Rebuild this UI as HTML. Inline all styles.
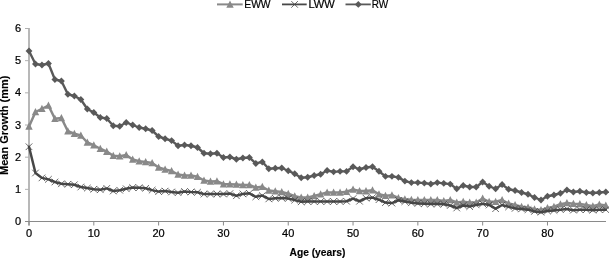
<!DOCTYPE html>
<html><head><meta charset="utf-8"><title>Mean Growth vs Age</title>
<style>html,body{margin:0;padding:0;background:#fff}svg{display:block}</style></head>
<body>
<svg width="609" height="258" viewBox="0 0 609 258" font-family="'Liberation Sans', sans-serif">
<rect width="609" height="258" fill="#fff"/>
<line x1="29" y1="28" x2="29" y2="225.5" stroke="#b8b8b8" stroke-width="2"/>
<line x1="25" y1="221.5" x2="606" y2="221.5" stroke="#8a8a8a" stroke-width="1"/>
<line x1="25" y1="28.50" x2="29" y2="28.50" stroke="#b0b0b0" stroke-width="1"/>
<text x="21" y="32.10" font-size="11" text-anchor="end" fill="#000" stroke="#000" stroke-width="0.22">6</text>
<line x1="25" y1="60.67" x2="29" y2="60.67" stroke="#b0b0b0" stroke-width="1"/>
<text x="21" y="64.27" font-size="11" text-anchor="end" fill="#000" stroke="#000" stroke-width="0.22">5</text>
<line x1="25" y1="92.84" x2="29" y2="92.84" stroke="#b0b0b0" stroke-width="1"/>
<text x="21" y="96.44" font-size="11" text-anchor="end" fill="#000" stroke="#000" stroke-width="0.22">4</text>
<line x1="25" y1="125.01" x2="29" y2="125.01" stroke="#b0b0b0" stroke-width="1"/>
<text x="21" y="128.61" font-size="11" text-anchor="end" fill="#000" stroke="#000" stroke-width="0.22">3</text>
<line x1="25" y1="157.18" x2="29" y2="157.18" stroke="#b0b0b0" stroke-width="1"/>
<text x="21" y="160.78" font-size="11" text-anchor="end" fill="#000" stroke="#000" stroke-width="0.22">2</text>
<line x1="25" y1="189.35" x2="29" y2="189.35" stroke="#b0b0b0" stroke-width="1"/>
<text x="21" y="192.95" font-size="11" text-anchor="end" fill="#000" stroke="#000" stroke-width="0.22">1</text>
<text x="21" y="225.12" font-size="11" text-anchor="end" fill="#000" stroke="#000" stroke-width="0.22">0</text>
<line x1="29.00" y1="221.5" x2="29.00" y2="225.5" stroke="#8a8a8a" stroke-width="1"/>
<text x="29.00" y="237.2" font-size="11" text-anchor="middle" fill="#000" stroke="#000" stroke-width="0.22">0</text>
<line x1="93.81" y1="221.5" x2="93.81" y2="225.5" stroke="#8a8a8a" stroke-width="1"/>
<text x="93.81" y="237.2" font-size="11" text-anchor="middle" fill="#000" stroke="#000" stroke-width="0.22">10</text>
<line x1="158.62" y1="221.5" x2="158.62" y2="225.5" stroke="#8a8a8a" stroke-width="1"/>
<text x="158.62" y="237.2" font-size="11" text-anchor="middle" fill="#000" stroke="#000" stroke-width="0.22">20</text>
<line x1="223.43" y1="221.5" x2="223.43" y2="225.5" stroke="#8a8a8a" stroke-width="1"/>
<text x="223.43" y="237.2" font-size="11" text-anchor="middle" fill="#000" stroke="#000" stroke-width="0.22">30</text>
<line x1="288.24" y1="221.5" x2="288.24" y2="225.5" stroke="#8a8a8a" stroke-width="1"/>
<text x="288.24" y="237.2" font-size="11" text-anchor="middle" fill="#000" stroke="#000" stroke-width="0.22">40</text>
<line x1="353.04" y1="221.5" x2="353.04" y2="225.5" stroke="#8a8a8a" stroke-width="1"/>
<text x="353.04" y="237.2" font-size="11" text-anchor="middle" fill="#000" stroke="#000" stroke-width="0.22">50</text>
<line x1="417.85" y1="221.5" x2="417.85" y2="225.5" stroke="#8a8a8a" stroke-width="1"/>
<text x="417.85" y="237.2" font-size="11" text-anchor="middle" fill="#000" stroke="#000" stroke-width="0.22">60</text>
<line x1="482.66" y1="221.5" x2="482.66" y2="225.5" stroke="#8a8a8a" stroke-width="1"/>
<text x="482.66" y="237.2" font-size="11" text-anchor="middle" fill="#000" stroke="#000" stroke-width="0.22">70</text>
<line x1="547.47" y1="221.5" x2="547.47" y2="225.5" stroke="#8a8a8a" stroke-width="1"/>
<text x="547.47" y="237.2" font-size="11" text-anchor="middle" fill="#000" stroke="#000" stroke-width="0.22">80</text>
<text transform="translate(8.4,174.9) rotate(-90)" font-size="11" font-weight="bold" textLength="99.3" lengthAdjust="spacingAndGlyphs" fill="#000" stroke="#000" stroke-width="0.15">Mean Growth (mm)</text>
<text x="289.5" y="255.5" font-size="11" font-weight="bold" textLength="55.8" lengthAdjust="spacingAndGlyphs" fill="#000" stroke="#000" stroke-width="0.15">Age (years)</text>
<polyline points="29.00,126.45 35.48,112.00 41.96,108.75 48.44,105.50 54.92,118.75 61.40,118.00 67.89,131.25 74.37,133.75 80.85,135.50 87.33,142.50 93.81,145.25 100.29,148.75 106.77,151.60 113.25,155.75 119.73,156.25 126.21,155.00 132.69,159.50 139.18,161.25 145.66,162.00 152.14,163.00 158.62,167.50 165.10,169.50 171.58,171.00 178.06,174.50 184.54,175.50 191.02,175.50 197.50,176.75 203.98,180.50 210.47,181.50 216.95,181.25 223.43,184.25 229.91,184.25 236.39,184.50 242.87,185.00 249.35,185.00 255.83,187.50 262.31,186.75 268.79,190.50 275.27,191.25 281.76,192.00 288.24,193.75 294.72,196.25 301.20,197.50 307.68,197.50 314.16,196.00 320.64,194.25 327.12,192.40 333.60,192.40 340.08,192.40 346.56,191.75 353.04,189.50 359.53,191.00 366.01,191.10 372.49,190.25 378.97,194.25 385.45,195.75 391.93,195.25 398.41,198.00 404.89,199.25 411.37,199.75 417.85,200.00 424.33,200.00 430.82,200.00 437.30,200.00 443.78,201.00 450.26,200.00 456.74,202.50 463.22,201.75 469.70,202.50 476.18,202.50 482.66,198.50 489.14,201.75 495.62,201.75 502.11,200.00 508.59,203.50 515.07,205.00 521.55,206.75 528.03,207.50 534.51,209.25 540.99,210.00 547.47,208.00 553.95,206.75 560.43,204.25 566.91,203.00 573.40,203.80 579.88,204.00 586.36,205.00 592.84,206.25 599.32,204.50 605.80,205.50" fill="none" stroke="#898989" stroke-width="2.5" stroke-linejoin="round" stroke-linecap="round"/>
<path d="M29.00 122.45L32.70 129.75L25.30 129.75Z" fill="#898989"/><path d="M35.48 108.00L39.18 115.30L31.78 115.30Z" fill="#898989"/><path d="M41.96 104.75L45.66 112.05L38.26 112.05Z" fill="#898989"/><path d="M48.44 101.50L52.14 108.80L44.74 108.80Z" fill="#898989"/><path d="M54.92 114.75L58.62 122.05L51.22 122.05Z" fill="#898989"/><path d="M61.40 114.00L65.10 121.30L57.70 121.30Z" fill="#898989"/><path d="M67.89 127.25L71.59 134.55L64.19 134.55Z" fill="#898989"/><path d="M74.37 129.75L78.07 137.05L70.67 137.05Z" fill="#898989"/><path d="M80.85 131.50L84.55 138.80L77.15 138.80Z" fill="#898989"/><path d="M87.33 138.50L91.03 145.80L83.63 145.80Z" fill="#898989"/><path d="M93.81 141.25L97.51 148.55L90.11 148.55Z" fill="#898989"/><path d="M100.29 144.75L103.99 152.05L96.59 152.05Z" fill="#898989"/><path d="M106.77 147.60L110.47 154.90L103.07 154.90Z" fill="#898989"/><path d="M113.25 151.75L116.95 159.05L109.55 159.05Z" fill="#898989"/><path d="M119.73 152.25L123.43 159.55L116.03 159.55Z" fill="#898989"/><path d="M126.21 151.00L129.91 158.30L122.51 158.30Z" fill="#898989"/><path d="M132.69 155.50L136.39 162.80L128.99 162.80Z" fill="#898989"/><path d="M139.18 157.25L142.88 164.55L135.48 164.55Z" fill="#898989"/><path d="M145.66 158.00L149.36 165.30L141.96 165.30Z" fill="#898989"/><path d="M152.14 159.00L155.84 166.30L148.44 166.30Z" fill="#898989"/><path d="M158.62 163.50L162.32 170.80L154.92 170.80Z" fill="#898989"/><path d="M165.10 165.50L168.80 172.80L161.40 172.80Z" fill="#898989"/><path d="M171.58 167.00L175.28 174.30L167.88 174.30Z" fill="#898989"/><path d="M178.06 170.50L181.76 177.80L174.36 177.80Z" fill="#898989"/><path d="M184.54 171.50L188.24 178.80L180.84 178.80Z" fill="#898989"/><path d="M191.02 171.50L194.72 178.80L187.32 178.80Z" fill="#898989"/><path d="M197.50 172.75L201.20 180.05L193.80 180.05Z" fill="#898989"/><path d="M203.98 176.50L207.68 183.80L200.28 183.80Z" fill="#898989"/><path d="M210.47 177.50L214.17 184.80L206.77 184.80Z" fill="#898989"/><path d="M216.95 177.25L220.65 184.55L213.25 184.55Z" fill="#898989"/><path d="M223.43 180.25L227.13 187.55L219.73 187.55Z" fill="#898989"/><path d="M229.91 180.25L233.61 187.55L226.21 187.55Z" fill="#898989"/><path d="M236.39 180.50L240.09 187.80L232.69 187.80Z" fill="#898989"/><path d="M242.87 181.00L246.57 188.30L239.17 188.30Z" fill="#898989"/><path d="M249.35 181.00L253.05 188.30L245.65 188.30Z" fill="#898989"/><path d="M255.83 183.50L259.53 190.80L252.13 190.80Z" fill="#898989"/><path d="M262.31 182.75L266.01 190.05L258.61 190.05Z" fill="#898989"/><path d="M268.79 186.50L272.49 193.80L265.09 193.80Z" fill="#898989"/><path d="M275.27 187.25L278.97 194.55L271.57 194.55Z" fill="#898989"/><path d="M281.76 188.00L285.46 195.30L278.06 195.30Z" fill="#898989"/><path d="M288.24 189.75L291.94 197.05L284.54 197.05Z" fill="#898989"/><path d="M294.72 192.25L298.42 199.55L291.02 199.55Z" fill="#898989"/><path d="M301.20 193.50L304.90 200.80L297.50 200.80Z" fill="#898989"/><path d="M307.68 193.50L311.38 200.80L303.98 200.80Z" fill="#898989"/><path d="M314.16 192.00L317.86 199.30L310.46 199.30Z" fill="#898989"/><path d="M320.64 190.25L324.34 197.55L316.94 197.55Z" fill="#898989"/><path d="M327.12 188.40L330.82 195.70L323.42 195.70Z" fill="#898989"/><path d="M333.60 188.40L337.30 195.70L329.90 195.70Z" fill="#898989"/><path d="M340.08 188.40L343.78 195.70L336.38 195.70Z" fill="#898989"/><path d="M346.56 187.75L350.26 195.05L342.86 195.05Z" fill="#898989"/><path d="M353.04 185.50L356.74 192.80L349.34 192.80Z" fill="#898989"/><path d="M359.53 187.00L363.23 194.30L355.83 194.30Z" fill="#898989"/><path d="M366.01 187.10L369.71 194.40L362.31 194.40Z" fill="#898989"/><path d="M372.49 186.25L376.19 193.55L368.79 193.55Z" fill="#898989"/><path d="M378.97 190.25L382.67 197.55L375.27 197.55Z" fill="#898989"/><path d="M385.45 191.75L389.15 199.05L381.75 199.05Z" fill="#898989"/><path d="M391.93 191.25L395.63 198.55L388.23 198.55Z" fill="#898989"/><path d="M398.41 194.00L402.11 201.30L394.71 201.30Z" fill="#898989"/><path d="M404.89 195.25L408.59 202.55L401.19 202.55Z" fill="#898989"/><path d="M411.37 195.75L415.07 203.05L407.67 203.05Z" fill="#898989"/><path d="M417.85 196.00L421.55 203.30L414.15 203.30Z" fill="#898989"/><path d="M424.33 196.00L428.03 203.30L420.63 203.30Z" fill="#898989"/><path d="M430.82 196.00L434.52 203.30L427.12 203.30Z" fill="#898989"/><path d="M437.30 196.00L441.00 203.30L433.60 203.30Z" fill="#898989"/><path d="M443.78 197.00L447.48 204.30L440.08 204.30Z" fill="#898989"/><path d="M450.26 196.00L453.96 203.30L446.56 203.30Z" fill="#898989"/><path d="M456.74 198.50L460.44 205.80L453.04 205.80Z" fill="#898989"/><path d="M463.22 197.75L466.92 205.05L459.52 205.05Z" fill="#898989"/><path d="M469.70 198.50L473.40 205.80L466.00 205.80Z" fill="#898989"/><path d="M476.18 198.50L479.88 205.80L472.48 205.80Z" fill="#898989"/><path d="M482.66 194.50L486.36 201.80L478.96 201.80Z" fill="#898989"/><path d="M489.14 197.75L492.84 205.05L485.44 205.05Z" fill="#898989"/><path d="M495.62 197.75L499.32 205.05L491.92 205.05Z" fill="#898989"/><path d="M502.11 196.00L505.81 203.30L498.41 203.30Z" fill="#898989"/><path d="M508.59 199.50L512.29 206.80L504.89 206.80Z" fill="#898989"/><path d="M515.07 201.00L518.77 208.30L511.37 208.30Z" fill="#898989"/><path d="M521.55 202.75L525.25 210.05L517.85 210.05Z" fill="#898989"/><path d="M528.03 203.50L531.73 210.80L524.33 210.80Z" fill="#898989"/><path d="M534.51 205.25L538.21 212.55L530.81 212.55Z" fill="#898989"/><path d="M540.99 206.00L544.69 213.30L537.29 213.30Z" fill="#898989"/><path d="M547.47 204.00L551.17 211.30L543.77 211.30Z" fill="#898989"/><path d="M553.95 202.75L557.65 210.05L550.25 210.05Z" fill="#898989"/><path d="M560.43 200.25L564.13 207.55L556.73 207.55Z" fill="#898989"/><path d="M566.91 199.00L570.61 206.30L563.21 206.30Z" fill="#898989"/><path d="M573.40 199.80L577.10 207.10L569.70 207.10Z" fill="#898989"/><path d="M579.88 200.00L583.58 207.30L576.18 207.30Z" fill="#898989"/><path d="M586.36 201.00L590.06 208.30L582.66 208.30Z" fill="#898989"/><path d="M592.84 202.25L596.54 209.55L589.14 209.55Z" fill="#898989"/><path d="M599.32 200.50L603.02 207.80L595.62 207.80Z" fill="#898989"/><path d="M605.80 201.50L609.50 208.80L602.10 208.80Z" fill="#898989"/>
<polyline points="29.00,146.75 35.48,173.00 41.96,177.90 48.44,179.35 54.92,182.00 61.40,183.80 67.89,184.25 74.37,184.75 80.85,187.00 87.33,188.10 93.81,189.25 100.29,189.75 106.77,188.40 113.25,191.00 119.73,190.25 126.21,188.75 132.69,187.60 139.18,187.70 145.66,188.30 152.14,190.10 158.62,191.60 165.10,191.10 171.58,192.00 178.06,192.70 184.54,191.50 191.02,192.00 197.50,192.30 203.98,194.10 210.47,194.00 216.95,194.00 223.43,194.00 229.91,193.60 236.39,195.75 242.87,193.90 249.35,193.30 255.83,196.80 262.31,195.60 268.79,198.90 275.27,198.30 281.76,197.90 288.24,198.50 294.72,200.10 301.20,201.80 307.68,201.50 314.16,201.50 320.64,201.50 327.12,201.50 333.60,201.50 340.08,201.50 346.56,201.25 353.04,198.60 359.53,201.25 366.01,198.20 372.49,197.60 378.97,199.70 385.45,202.60 391.93,203.10 398.41,200.30 404.89,201.60 411.37,202.80 417.85,203.40 424.33,203.80 430.82,204.00 437.30,204.00 443.78,204.20 450.26,205.50 456.74,208.00 463.22,205.50 469.70,206.60 476.18,204.90 482.66,203.70 489.14,205.00 495.62,208.70 502.11,205.00 508.59,206.90 515.07,208.40 521.55,208.90 528.03,209.65 534.51,211.40 540.99,212.15 547.47,210.90 553.95,210.40 560.43,209.65 566.91,208.90 573.40,210.15 579.88,209.65 586.36,209.65 592.84,210.15 599.32,209.65 605.80,209.65" fill="none" stroke="#474747" stroke-width="2.5" stroke-linejoin="round" stroke-linecap="round"/>
<path d="M25.70 143.45L32.30 150.05M25.70 150.05L32.30 143.45" stroke="#444444" stroke-width="0.8" fill="none"/><path d="M32.18 169.70L38.78 176.30M32.18 176.30L38.78 169.70" stroke="#444444" stroke-width="0.8" fill="none"/><path d="M38.66 174.60L45.26 181.20M38.66 181.20L45.26 174.60" stroke="#444444" stroke-width="0.8" fill="none"/><path d="M45.14 176.05L51.74 182.65M45.14 182.65L51.74 176.05" stroke="#444444" stroke-width="0.8" fill="none"/><path d="M51.62 178.70L58.22 185.30M51.62 185.30L58.22 178.70" stroke="#444444" stroke-width="0.8" fill="none"/><path d="M58.10 180.50L64.70 187.10M58.10 187.10L64.70 180.50" stroke="#444444" stroke-width="0.8" fill="none"/><path d="M64.59 180.95L71.19 187.55M64.59 187.55L71.19 180.95" stroke="#444444" stroke-width="0.8" fill="none"/><path d="M71.07 181.45L77.67 188.05M71.07 188.05L77.67 181.45" stroke="#444444" stroke-width="0.8" fill="none"/><path d="M77.55 183.70L84.15 190.30M77.55 190.30L84.15 183.70" stroke="#444444" stroke-width="0.8" fill="none"/><path d="M84.03 184.80L90.63 191.40M84.03 191.40L90.63 184.80" stroke="#444444" stroke-width="0.8" fill="none"/><path d="M90.51 185.95L97.11 192.55M90.51 192.55L97.11 185.95" stroke="#444444" stroke-width="0.8" fill="none"/><path d="M96.99 186.45L103.59 193.05M96.99 193.05L103.59 186.45" stroke="#444444" stroke-width="0.8" fill="none"/><path d="M103.47 185.10L110.07 191.70M103.47 191.70L110.07 185.10" stroke="#444444" stroke-width="0.8" fill="none"/><path d="M109.95 187.70L116.55 194.30M109.95 194.30L116.55 187.70" stroke="#444444" stroke-width="0.8" fill="none"/><path d="M116.43 186.95L123.03 193.55M116.43 193.55L123.03 186.95" stroke="#444444" stroke-width="0.8" fill="none"/><path d="M122.91 185.45L129.51 192.05M122.91 192.05L129.51 185.45" stroke="#444444" stroke-width="0.8" fill="none"/><path d="M129.39 184.30L135.99 190.90M129.39 190.90L135.99 184.30" stroke="#444444" stroke-width="0.8" fill="none"/><path d="M135.88 184.40L142.48 191.00M135.88 191.00L142.48 184.40" stroke="#444444" stroke-width="0.8" fill="none"/><path d="M142.36 185.00L148.96 191.60M142.36 191.60L148.96 185.00" stroke="#444444" stroke-width="0.8" fill="none"/><path d="M148.84 186.80L155.44 193.40M148.84 193.40L155.44 186.80" stroke="#444444" stroke-width="0.8" fill="none"/><path d="M155.32 188.30L161.92 194.90M155.32 194.90L161.92 188.30" stroke="#444444" stroke-width="0.8" fill="none"/><path d="M161.80 187.80L168.40 194.40M161.80 194.40L168.40 187.80" stroke="#444444" stroke-width="0.8" fill="none"/><path d="M168.28 188.70L174.88 195.30M168.28 195.30L174.88 188.70" stroke="#444444" stroke-width="0.8" fill="none"/><path d="M174.76 189.40L181.36 196.00M174.76 196.00L181.36 189.40" stroke="#444444" stroke-width="0.8" fill="none"/><path d="M181.24 188.20L187.84 194.80M181.24 194.80L187.84 188.20" stroke="#444444" stroke-width="0.8" fill="none"/><path d="M187.72 188.70L194.32 195.30M187.72 195.30L194.32 188.70" stroke="#444444" stroke-width="0.8" fill="none"/><path d="M194.20 189.00L200.80 195.60M194.20 195.60L200.80 189.00" stroke="#444444" stroke-width="0.8" fill="none"/><path d="M200.68 190.80L207.28 197.40M200.68 197.40L207.28 190.80" stroke="#444444" stroke-width="0.8" fill="none"/><path d="M207.17 190.70L213.77 197.30M207.17 197.30L213.77 190.70" stroke="#444444" stroke-width="0.8" fill="none"/><path d="M213.65 190.70L220.25 197.30M213.65 197.30L220.25 190.70" stroke="#444444" stroke-width="0.8" fill="none"/><path d="M220.13 190.70L226.73 197.30M220.13 197.30L226.73 190.70" stroke="#444444" stroke-width="0.8" fill="none"/><path d="M226.61 190.30L233.21 196.90M226.61 196.90L233.21 190.30" stroke="#444444" stroke-width="0.8" fill="none"/><path d="M233.09 192.45L239.69 199.05M233.09 199.05L239.69 192.45" stroke="#444444" stroke-width="0.8" fill="none"/><path d="M239.57 190.60L246.17 197.20M239.57 197.20L246.17 190.60" stroke="#444444" stroke-width="0.8" fill="none"/><path d="M246.05 190.00L252.65 196.60M246.05 196.60L252.65 190.00" stroke="#444444" stroke-width="0.8" fill="none"/><path d="M252.53 193.50L259.13 200.10M252.53 200.10L259.13 193.50" stroke="#444444" stroke-width="0.8" fill="none"/><path d="M259.01 192.30L265.61 198.90M259.01 198.90L265.61 192.30" stroke="#444444" stroke-width="0.8" fill="none"/><path d="M265.49 195.60L272.09 202.20M265.49 202.20L272.09 195.60" stroke="#444444" stroke-width="0.8" fill="none"/><path d="M271.97 195.00L278.57 201.60M271.97 201.60L278.57 195.00" stroke="#444444" stroke-width="0.8" fill="none"/><path d="M278.46 194.60L285.06 201.20M278.46 201.20L285.06 194.60" stroke="#444444" stroke-width="0.8" fill="none"/><path d="M284.94 195.20L291.54 201.80M284.94 201.80L291.54 195.20" stroke="#444444" stroke-width="0.8" fill="none"/><path d="M291.42 196.80L298.02 203.40M291.42 203.40L298.02 196.80" stroke="#444444" stroke-width="0.8" fill="none"/><path d="M297.90 198.50L304.50 205.10M297.90 205.10L304.50 198.50" stroke="#444444" stroke-width="0.8" fill="none"/><path d="M304.38 198.20L310.98 204.80M304.38 204.80L310.98 198.20" stroke="#444444" stroke-width="0.8" fill="none"/><path d="M310.86 198.20L317.46 204.80M310.86 204.80L317.46 198.20" stroke="#444444" stroke-width="0.8" fill="none"/><path d="M317.34 198.20L323.94 204.80M317.34 204.80L323.94 198.20" stroke="#444444" stroke-width="0.8" fill="none"/><path d="M323.82 198.20L330.42 204.80M323.82 204.80L330.42 198.20" stroke="#444444" stroke-width="0.8" fill="none"/><path d="M330.30 198.20L336.90 204.80M330.30 204.80L336.90 198.20" stroke="#444444" stroke-width="0.8" fill="none"/><path d="M336.78 198.20L343.38 204.80M336.78 204.80L343.38 198.20" stroke="#444444" stroke-width="0.8" fill="none"/><path d="M343.26 197.95L349.86 204.55M343.26 204.55L349.86 197.95" stroke="#444444" stroke-width="0.8" fill="none"/><path d="M349.74 195.30L356.34 201.90M349.74 201.90L356.34 195.30" stroke="#444444" stroke-width="0.8" fill="none"/><path d="M356.23 197.95L362.83 204.55M356.23 204.55L362.83 197.95" stroke="#444444" stroke-width="0.8" fill="none"/><path d="M362.71 194.90L369.31 201.50M362.71 201.50L369.31 194.90" stroke="#444444" stroke-width="0.8" fill="none"/><path d="M369.19 194.30L375.79 200.90M369.19 200.90L375.79 194.30" stroke="#444444" stroke-width="0.8" fill="none"/><path d="M375.67 196.40L382.27 203.00M375.67 203.00L382.27 196.40" stroke="#444444" stroke-width="0.8" fill="none"/><path d="M382.15 199.30L388.75 205.90M382.15 205.90L388.75 199.30" stroke="#444444" stroke-width="0.8" fill="none"/><path d="M388.63 199.80L395.23 206.40M388.63 206.40L395.23 199.80" stroke="#444444" stroke-width="0.8" fill="none"/><path d="M395.11 197.00L401.71 203.60M395.11 203.60L401.71 197.00" stroke="#444444" stroke-width="0.8" fill="none"/><path d="M401.59 198.30L408.19 204.90M401.59 204.90L408.19 198.30" stroke="#444444" stroke-width="0.8" fill="none"/><path d="M408.07 199.50L414.67 206.10M408.07 206.10L414.67 199.50" stroke="#444444" stroke-width="0.8" fill="none"/><path d="M414.55 200.10L421.15 206.70M414.55 206.70L421.15 200.10" stroke="#444444" stroke-width="0.8" fill="none"/><path d="M421.03 200.50L427.63 207.10M421.03 207.10L427.63 200.50" stroke="#444444" stroke-width="0.8" fill="none"/><path d="M427.52 200.70L434.12 207.30M427.52 207.30L434.12 200.70" stroke="#444444" stroke-width="0.8" fill="none"/><path d="M434.00 200.70L440.60 207.30M434.00 207.30L440.60 200.70" stroke="#444444" stroke-width="0.8" fill="none"/><path d="M440.48 200.90L447.08 207.50M440.48 207.50L447.08 200.90" stroke="#444444" stroke-width="0.8" fill="none"/><path d="M446.96 202.20L453.56 208.80M446.96 208.80L453.56 202.20" stroke="#444444" stroke-width="0.8" fill="none"/><path d="M453.44 204.70L460.04 211.30M453.44 211.30L460.04 204.70" stroke="#444444" stroke-width="0.8" fill="none"/><path d="M459.92 202.20L466.52 208.80M459.92 208.80L466.52 202.20" stroke="#444444" stroke-width="0.8" fill="none"/><path d="M466.40 203.30L473.00 209.90M466.40 209.90L473.00 203.30" stroke="#444444" stroke-width="0.8" fill="none"/><path d="M472.88 201.60L479.48 208.20M472.88 208.20L479.48 201.60" stroke="#444444" stroke-width="0.8" fill="none"/><path d="M479.36 200.40L485.96 207.00M479.36 207.00L485.96 200.40" stroke="#444444" stroke-width="0.8" fill="none"/><path d="M485.84 201.70L492.44 208.30M485.84 208.30L492.44 201.70" stroke="#444444" stroke-width="0.8" fill="none"/><path d="M492.32 205.40L498.92 212.00M492.32 212.00L498.92 205.40" stroke="#444444" stroke-width="0.8" fill="none"/><path d="M498.81 201.70L505.41 208.30M498.81 208.30L505.41 201.70" stroke="#444444" stroke-width="0.8" fill="none"/><path d="M505.29 203.60L511.89 210.20M505.29 210.20L511.89 203.60" stroke="#444444" stroke-width="0.8" fill="none"/><path d="M511.77 205.10L518.37 211.70M511.77 211.70L518.37 205.10" stroke="#444444" stroke-width="0.8" fill="none"/><path d="M518.25 205.60L524.85 212.20M518.25 212.20L524.85 205.60" stroke="#444444" stroke-width="0.8" fill="none"/><path d="M524.73 206.35L531.33 212.95M524.73 212.95L531.33 206.35" stroke="#444444" stroke-width="0.8" fill="none"/><path d="M531.21 208.10L537.81 214.70M531.21 214.70L537.81 208.10" stroke="#444444" stroke-width="0.8" fill="none"/><path d="M537.69 208.85L544.29 215.45M537.69 215.45L544.29 208.85" stroke="#444444" stroke-width="0.8" fill="none"/><path d="M544.17 207.60L550.77 214.20M544.17 214.20L550.77 207.60" stroke="#444444" stroke-width="0.8" fill="none"/><path d="M550.65 207.10L557.25 213.70M550.65 213.70L557.25 207.10" stroke="#444444" stroke-width="0.8" fill="none"/><path d="M557.13 206.35L563.73 212.95M557.13 212.95L563.73 206.35" stroke="#444444" stroke-width="0.8" fill="none"/><path d="M563.61 205.60L570.21 212.20M563.61 212.20L570.21 205.60" stroke="#444444" stroke-width="0.8" fill="none"/><path d="M570.10 206.85L576.70 213.45M570.10 213.45L576.70 206.85" stroke="#444444" stroke-width="0.8" fill="none"/><path d="M576.58 206.35L583.18 212.95M576.58 212.95L583.18 206.35" stroke="#444444" stroke-width="0.8" fill="none"/><path d="M583.06 206.35L589.66 212.95M583.06 212.95L589.66 206.35" stroke="#444444" stroke-width="0.8" fill="none"/><path d="M589.54 206.85L596.14 213.45M589.54 213.45L596.14 206.85" stroke="#444444" stroke-width="0.8" fill="none"/><path d="M596.02 206.35L602.62 212.95M596.02 212.95L602.62 206.35" stroke="#444444" stroke-width="0.8" fill="none"/><path d="M602.50 206.35L609.10 212.95M602.50 212.95L609.10 206.35" stroke="#444444" stroke-width="0.8" fill="none"/>
<polyline points="29.00,51.00 35.48,64.00 41.96,65.00 48.44,63.50 54.92,79.50 61.40,81.00 67.89,94.25 74.37,96.00 80.85,99.50 87.33,109.00 93.81,112.50 100.29,117.50 106.77,118.50 113.25,125.75 119.73,126.25 126.21,122.50 132.69,125.00 139.18,127.50 145.66,128.75 152.14,130.50 158.62,136.50 165.10,138.75 171.58,140.60 178.06,145.75 184.54,145.00 191.02,145.75 197.50,147.50 203.98,153.25 210.47,153.75 216.95,153.25 223.43,157.50 229.91,157.00 236.39,159.25 242.87,158.00 249.35,157.50 255.83,163.45 262.31,161.95 268.79,168.75 275.27,168.25 281.76,168.00 288.24,170.75 294.72,173.75 301.20,177.75 307.68,177.25 314.16,175.50 320.64,174.25 327.12,170.50 333.60,171.85 340.08,171.35 346.56,171.35 353.04,166.75 359.53,169.25 366.01,167.50 372.49,166.75 378.97,171.25 385.45,176.35 391.93,176.35 398.41,177.35 404.89,181.10 411.37,182.60 417.85,182.60 424.33,183.10 430.82,184.00 437.30,182.60 443.78,183.35 450.26,184.10 456.74,188.80 463.22,185.50 469.70,187.00 476.18,187.00 482.66,182.00 489.14,186.25 495.62,188.75 502.11,184.50 508.59,189.25 515.07,190.50 521.55,192.50 528.03,194.25 534.51,197.50 540.99,200.00 547.47,196.25 553.95,195.00 560.43,193.25 566.91,190.00 573.40,192.00 579.88,191.25 586.36,192.50 592.84,193.00 599.32,192.50 605.80,192.00" fill="none" stroke="#595959" stroke-width="2.4" stroke-linejoin="round" stroke-linecap="round"/>
<path d="M29.00 47.55L32.45 51.00L29.00 54.45L25.55 51.00Z" fill="#595959"/><path d="M35.48 60.55L38.93 64.00L35.48 67.45L32.03 64.00Z" fill="#595959"/><path d="M41.96 61.55L45.41 65.00L41.96 68.45L38.51 65.00Z" fill="#595959"/><path d="M48.44 60.05L51.89 63.50L48.44 66.95L44.99 63.50Z" fill="#595959"/><path d="M54.92 76.05L58.37 79.50L54.92 82.95L51.47 79.50Z" fill="#595959"/><path d="M61.40 77.55L64.85 81.00L61.40 84.45L57.95 81.00Z" fill="#595959"/><path d="M67.89 90.80L71.34 94.25L67.89 97.70L64.44 94.25Z" fill="#595959"/><path d="M74.37 92.55L77.82 96.00L74.37 99.45L70.92 96.00Z" fill="#595959"/><path d="M80.85 96.05L84.30 99.50L80.85 102.95L77.40 99.50Z" fill="#595959"/><path d="M87.33 105.55L90.78 109.00L87.33 112.45L83.88 109.00Z" fill="#595959"/><path d="M93.81 109.05L97.26 112.50L93.81 115.95L90.36 112.50Z" fill="#595959"/><path d="M100.29 114.05L103.74 117.50L100.29 120.95L96.84 117.50Z" fill="#595959"/><path d="M106.77 115.05L110.22 118.50L106.77 121.95L103.32 118.50Z" fill="#595959"/><path d="M113.25 122.30L116.70 125.75L113.25 129.20L109.80 125.75Z" fill="#595959"/><path d="M119.73 122.80L123.18 126.25L119.73 129.70L116.28 126.25Z" fill="#595959"/><path d="M126.21 119.05L129.66 122.50L126.21 125.95L122.76 122.50Z" fill="#595959"/><path d="M132.69 121.55L136.14 125.00L132.69 128.45L129.24 125.00Z" fill="#595959"/><path d="M139.18 124.05L142.63 127.50L139.18 130.95L135.73 127.50Z" fill="#595959"/><path d="M145.66 125.30L149.11 128.75L145.66 132.20L142.21 128.75Z" fill="#595959"/><path d="M152.14 127.05L155.59 130.50L152.14 133.95L148.69 130.50Z" fill="#595959"/><path d="M158.62 133.05L162.07 136.50L158.62 139.95L155.17 136.50Z" fill="#595959"/><path d="M165.10 135.30L168.55 138.75L165.10 142.20L161.65 138.75Z" fill="#595959"/><path d="M171.58 137.15L175.03 140.60L171.58 144.05L168.13 140.60Z" fill="#595959"/><path d="M178.06 142.30L181.51 145.75L178.06 149.20L174.61 145.75Z" fill="#595959"/><path d="M184.54 141.55L187.99 145.00L184.54 148.45L181.09 145.00Z" fill="#595959"/><path d="M191.02 142.30L194.47 145.75L191.02 149.20L187.57 145.75Z" fill="#595959"/><path d="M197.50 144.05L200.95 147.50L197.50 150.95L194.05 147.50Z" fill="#595959"/><path d="M203.98 149.80L207.43 153.25L203.98 156.70L200.53 153.25Z" fill="#595959"/><path d="M210.47 150.30L213.92 153.75L210.47 157.20L207.02 153.75Z" fill="#595959"/><path d="M216.95 149.80L220.40 153.25L216.95 156.70L213.50 153.25Z" fill="#595959"/><path d="M223.43 154.05L226.88 157.50L223.43 160.95L219.98 157.50Z" fill="#595959"/><path d="M229.91 153.55L233.36 157.00L229.91 160.45L226.46 157.00Z" fill="#595959"/><path d="M236.39 155.80L239.84 159.25L236.39 162.70L232.94 159.25Z" fill="#595959"/><path d="M242.87 154.55L246.32 158.00L242.87 161.45L239.42 158.00Z" fill="#595959"/><path d="M249.35 154.05L252.80 157.50L249.35 160.95L245.90 157.50Z" fill="#595959"/><path d="M255.83 160.00L259.28 163.45L255.83 166.90L252.38 163.45Z" fill="#595959"/><path d="M262.31 158.50L265.76 161.95L262.31 165.40L258.86 161.95Z" fill="#595959"/><path d="M268.79 165.30L272.24 168.75L268.79 172.20L265.34 168.75Z" fill="#595959"/><path d="M275.27 164.80L278.72 168.25L275.27 171.70L271.82 168.25Z" fill="#595959"/><path d="M281.76 164.55L285.21 168.00L281.76 171.45L278.31 168.00Z" fill="#595959"/><path d="M288.24 167.30L291.69 170.75L288.24 174.20L284.79 170.75Z" fill="#595959"/><path d="M294.72 170.30L298.17 173.75L294.72 177.20L291.27 173.75Z" fill="#595959"/><path d="M301.20 174.30L304.65 177.75L301.20 181.20L297.75 177.75Z" fill="#595959"/><path d="M307.68 173.80L311.13 177.25L307.68 180.70L304.23 177.25Z" fill="#595959"/><path d="M314.16 172.05L317.61 175.50L314.16 178.95L310.71 175.50Z" fill="#595959"/><path d="M320.64 170.80L324.09 174.25L320.64 177.70L317.19 174.25Z" fill="#595959"/><path d="M327.12 167.05L330.57 170.50L327.12 173.95L323.67 170.50Z" fill="#595959"/><path d="M333.60 168.40L337.05 171.85L333.60 175.30L330.15 171.85Z" fill="#595959"/><path d="M340.08 167.90L343.53 171.35L340.08 174.80L336.63 171.35Z" fill="#595959"/><path d="M346.56 167.90L350.01 171.35L346.56 174.80L343.11 171.35Z" fill="#595959"/><path d="M353.04 163.30L356.49 166.75L353.04 170.20L349.59 166.75Z" fill="#595959"/><path d="M359.53 165.80L362.98 169.25L359.53 172.70L356.08 169.25Z" fill="#595959"/><path d="M366.01 164.05L369.46 167.50L366.01 170.95L362.56 167.50Z" fill="#595959"/><path d="M372.49 163.30L375.94 166.75L372.49 170.20L369.04 166.75Z" fill="#595959"/><path d="M378.97 167.80L382.42 171.25L378.97 174.70L375.52 171.25Z" fill="#595959"/><path d="M385.45 172.90L388.90 176.35L385.45 179.80L382.00 176.35Z" fill="#595959"/><path d="M391.93 172.90L395.38 176.35L391.93 179.80L388.48 176.35Z" fill="#595959"/><path d="M398.41 173.90L401.86 177.35L398.41 180.80L394.96 177.35Z" fill="#595959"/><path d="M404.89 177.65L408.34 181.10L404.89 184.55L401.44 181.10Z" fill="#595959"/><path d="M411.37 179.15L414.82 182.60L411.37 186.05L407.92 182.60Z" fill="#595959"/><path d="M417.85 179.15L421.30 182.60L417.85 186.05L414.40 182.60Z" fill="#595959"/><path d="M424.33 179.65L427.78 183.10L424.33 186.55L420.88 183.10Z" fill="#595959"/><path d="M430.82 180.55L434.27 184.00L430.82 187.45L427.37 184.00Z" fill="#595959"/><path d="M437.30 179.15L440.75 182.60L437.30 186.05L433.85 182.60Z" fill="#595959"/><path d="M443.78 179.90L447.23 183.35L443.78 186.80L440.33 183.35Z" fill="#595959"/><path d="M450.26 180.65L453.71 184.10L450.26 187.55L446.81 184.10Z" fill="#595959"/><path d="M456.74 185.35L460.19 188.80L456.74 192.25L453.29 188.80Z" fill="#595959"/><path d="M463.22 182.05L466.67 185.50L463.22 188.95L459.77 185.50Z" fill="#595959"/><path d="M469.70 183.55L473.15 187.00L469.70 190.45L466.25 187.00Z" fill="#595959"/><path d="M476.18 183.55L479.63 187.00L476.18 190.45L472.73 187.00Z" fill="#595959"/><path d="M482.66 178.55L486.11 182.00L482.66 185.45L479.21 182.00Z" fill="#595959"/><path d="M489.14 182.80L492.59 186.25L489.14 189.70L485.69 186.25Z" fill="#595959"/><path d="M495.62 185.30L499.07 188.75L495.62 192.20L492.17 188.75Z" fill="#595959"/><path d="M502.11 181.05L505.56 184.50L502.11 187.95L498.66 184.50Z" fill="#595959"/><path d="M508.59 185.80L512.04 189.25L508.59 192.70L505.14 189.25Z" fill="#595959"/><path d="M515.07 187.05L518.52 190.50L515.07 193.95L511.62 190.50Z" fill="#595959"/><path d="M521.55 189.05L525.00 192.50L521.55 195.95L518.10 192.50Z" fill="#595959"/><path d="M528.03 190.80L531.48 194.25L528.03 197.70L524.58 194.25Z" fill="#595959"/><path d="M534.51 194.05L537.96 197.50L534.51 200.95L531.06 197.50Z" fill="#595959"/><path d="M540.99 196.55L544.44 200.00L540.99 203.45L537.54 200.00Z" fill="#595959"/><path d="M547.47 192.80L550.92 196.25L547.47 199.70L544.02 196.25Z" fill="#595959"/><path d="M553.95 191.55L557.40 195.00L553.95 198.45L550.50 195.00Z" fill="#595959"/><path d="M560.43 189.80L563.88 193.25L560.43 196.70L556.98 193.25Z" fill="#595959"/><path d="M566.91 186.55L570.36 190.00L566.91 193.45L563.46 190.00Z" fill="#595959"/><path d="M573.40 188.55L576.85 192.00L573.40 195.45L569.95 192.00Z" fill="#595959"/><path d="M579.88 187.80L583.33 191.25L579.88 194.70L576.43 191.25Z" fill="#595959"/><path d="M586.36 189.05L589.81 192.50L586.36 195.95L582.91 192.50Z" fill="#595959"/><path d="M592.84 189.55L596.29 193.00L592.84 196.45L589.39 193.00Z" fill="#595959"/><path d="M599.32 189.05L602.77 192.50L599.32 195.95L595.87 192.50Z" fill="#595959"/><path d="M605.80 188.55L609.25 192.00L605.80 195.45L602.35 192.00Z" fill="#595959"/>
<line x1="217" y1="4.4" x2="242.7" y2="4.4" stroke="#898989" stroke-width="2"/><path d="M230.00 0.40L233.70 7.70L226.30 7.70Z" fill="#898989"/>
<text x="244.3" y="8.1" font-size="10.6" textLength="26.3" lengthAdjust="spacingAndGlyphs" fill="#000" stroke="#000" stroke-width="0.2">EWW</text>
<line x1="282" y1="4.4" x2="306.7" y2="4.4" stroke="#474747" stroke-width="1.8"/><path d="M291.30 1.10L297.90 7.70M291.30 7.70L297.90 1.10" stroke="#444444" stroke-width="0.8" fill="none"/>
<text x="308.4" y="8.1" font-size="10.6" textLength="26.2" lengthAdjust="spacingAndGlyphs" fill="#000" stroke="#000" stroke-width="0.2">LWW</text>
<line x1="345.5" y1="4.4" x2="370.8" y2="4.4" stroke="#595959" stroke-width="1.8"/><path d="M358.30 0.95L361.75 4.40L358.30 7.85L354.85 4.40Z" fill="#595959"/>
<text x="371.8" y="8.1" font-size="10.6" textLength="16.4" lengthAdjust="spacingAndGlyphs" fill="#000" stroke="#000" stroke-width="0.2">RW</text>
</svg>
</body></html>
